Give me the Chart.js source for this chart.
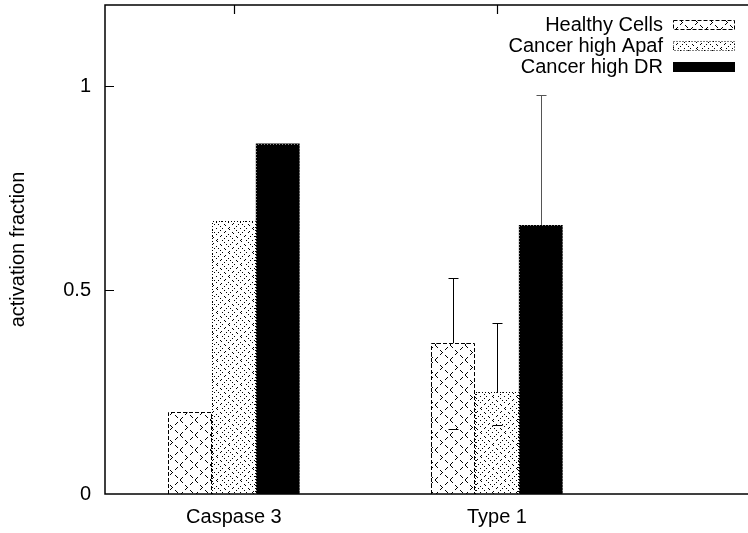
<!DOCTYPE html>
<html><head><meta charset="utf-8">
<script src="https://cdn.jsdelivr.net/npm/chart.js@4/dist/chart.umd.min.js"></script>
<style>html,body{margin:0;padding:0;overflow:hidden;background:#fff}#wrap{width:770px;height:533px;position:relative}</style>
</head><body><div id="wrap"><canvas id="c"></canvas></div>
<script>
const categories = ["Caspase 3", "Type 1"];
const seriesNames = ["Healthy Cells", "Cancer high Apaf", "Cancer high DR"];
const healthy = [0.20, 0.37];
const apaf = [0.67, 0.25];
const dr = [0.86, 0.66];
const healthyLow = [null, 0.16];
const healthyHigh = [null, 0.53];
const apafLow = [null, 0.17];
const apafHigh = [null, 0.42];
const drLow = [null, 0.34];
const drHigh = [null, 0.98];
const yTicks = [0, 0.5, 1];

const FONT = "'Liberation Sans', Arial, Helvetica, sans-serif";
Chart.defaults.font.family = FONT;
Chart.defaults.color = '#000';

function tile(n, drawFn) {
  const c = document.createElement('canvas'); c.width = c.height = n;
  const g = c.getContext('2d');
  g.fillStyle = '#fff'; g.fillRect(0, 0, n, n);
  g.fillStyle = '#000';
  const set = (x, y) => { g.fillRect(((x % n) + n) % n, ((y % n) + n) % n, 1, 1); };
  drawFn(set, n);
  return g.createPattern(c, 'repeat');
}
function makeHealthy() {
  return tile(15, (set, n) => {
    for (let i = 0; i < n; i++) {
      if (i % 5 < 3) { set(i, i); set(i, n - 1 - i); }
    }
    set(7, 7);
  });
}
function makeApaf() {
  return tile(24, (set, n) => {
    for (let i = 0; i < n; i++) {
      if (i % 4 < 2) { set(i, i); set(i, n - i); }
    }
    const ring = (cx, cy, r) => {
      for (let t = -r; t <= r; t++) {
        if ((t + r) % 2) continue;
        const d = r - Math.abs(t);
        set(cx + t, cy + d); set(cx + t, cy - d);
      }
    };
    [[12, 0], [0, 12]].forEach(([cx, cy]) => { ring(cx, cy, 6); set(cx, cy); });
  });
}
const healthyPat = makeHealthy();
const apafPat = makeApaf();
const fills = [healthyPat, apafPat, '#000'];
const values = [healthy, apaf, dr];
const lows = [healthyLow, apafLow, drLow];
const highs = [healthyHigh, apafHigh, drHigh];
const dashes = [[4, 2], [1, 2], [1, 2]];
const edgeColors = ['#000', '#000', '#888'];

const barEdges = {
  id: 'barEdges',
  afterDatasetsDraw(chart) {
    const ctx = chart.ctx;
    ctx.save();
    ctx.lineWidth = 1;
    values.forEach((vals, i) => {
      const meta = chart.getDatasetMeta(i);
      ctx.strokeStyle = edgeColors[i];
      ctx.setLineDash(dashes[i]);
      meta.data.forEach(el => {
        const l = Math.round(el.x - el.width / 2) + 0.5, r = Math.round(el.x + el.width / 2) - 0.5;
        const t = Math.round(el.y) + 0.5, b = Math.round(el.base);
        ctx.beginPath();
        ctx.moveTo(l, b); ctx.lineTo(l, t); ctx.lineTo(r, t); ctx.lineTo(r, b);
        ctx.stroke();
      });
    });
    ctx.restore();
  }
};

const errorBars = {
  id: 'errorBars',
  afterDatasetsDraw(chart) {
    const ctx = chart.ctx, ys = chart.scales.y;
    ctx.save();
    ctx.lineWidth = 1;
    values.forEach((vals, i) => {
      const meta = chart.getDatasetMeta(i);
      vals.forEach((v, j) => {
        if (highs[i][j] == null) return;
        const el = meta.data[j];
        const x = Math.round(el.x) + 0.5;
        const yh = Math.round(ys.getPixelForValue(highs[i][j])) + 0.5;
        const yl = Math.round(ys.getPixelForValue(lows[i][j])) + 0.5;
        ctx.strokeStyle = i === 2 ? '#555' : '#000';
        ctx.beginPath();
        ctx.moveTo(x, el.y); ctx.lineTo(x, yh);
        ctx.moveTo(x - 5, yh); ctx.lineTo(x + 5, yh);
        ctx.stroke();
        ctx.strokeStyle = '#000';
        ctx.beginPath();
        ctx.moveTo(x - 5, yl); ctx.lineTo(x + 5, yl);
        ctx.stroke();
      });
    });
    ctx.restore();
  }
};

const frame = {
  id: 'frame',
  afterDraw(chart) {
    const ctx = chart.ctx, a = chart.chartArea, xs = chart.scales.x, ys = chart.scales.y;
    ctx.save();
    ctx.strokeStyle = '#000'; ctx.lineWidth = 1.5;
    ctx.strokeRect(a.left, a.top, a.right - a.left, a.bottom - a.top);
    ctx.beginPath();
    yTicks.forEach(v => {
      if (v === 0) return;
      const y = Math.round(ys.getPixelForValue(v)) + 0.5;
      ctx.moveTo(a.left, y); ctx.lineTo(a.left + 9, y);
    });
    categories.forEach((c, i) => {
      const x = Math.round(xs.getPixelForValue(i)) + 0.5;
      ctx.moveTo(x, a.top); ctx.lineTo(x, a.top + 9);
    });
    ctx.lineWidth = 1.2;
    ctx.stroke();
    ctx.font = '20px ' + FONT;
    ctx.textAlign = 'right'; ctx.textBaseline = 'middle'; ctx.fillStyle = '#000';
    const rows = [25, 46, 67];
    seriesNames.forEach((n, i) => {
      ctx.fillText(n, 663, rows[i]);
      ctx.fillStyle = fills[i];
      ctx.fillRect(673, rows[i] - 5, 62, 10);
      if (i < 2) { ctx.lineWidth = 1; ctx.setLineDash(dashes[i]); ctx.strokeStyle = '#000'; ctx.strokeRect(673.5, rows[i] - 4.5, 61, 9); ctx.setLineDash([]); }
      ctx.fillStyle = '#000';
    });
    ctx.restore();
  }
};

new Chart(document.getElementById('c'), {
  type: 'bar',
  data: {
    datasets: seriesNames.map((n, i) => ({
      label: n,
      data: categories.map((c, j) => ({ x: j, y: values[i][j] })),
      backgroundColor: fills[i],
      borderWidth: 0,
      categoryPercentage: 0.5,
      barPercentage: 1
    }))
  },
  options: {
    responsive: true, maintainAspectRatio: false, animation: false, devicePixelRatio: 1,
    layout: { padding: { left: 0, top: 5, right: 10, bottom: 0 } },
    plugins: { legend: { display: false }, tooltip: { enabled: false } },
    scales: {
      x: {
        type: 'linear', min: -0.49, max: 2, offset: false, bounds: 'data', grace: 0,
        afterBuildTicks: s => { s.ticks = categories.map((c, i) => ({ value: i })); },
        afterFit: s => { s.height = 39; s.paddingLeft = 0; s.paddingRight = 0; },
        ticks: { callback: v => categories[v], font: { size: 20 }, color: '#000', maxRotation: 0, autoSkip: false, padding: 11 },
        grid: { display: false, drawTicks: false, offset: false },
        border: { display: false }
      },
      y: {
        min: 0, max: 1.2,
        afterBuildTicks: s => { s.ticks = yTicks.map(v => ({ value: v })); },
        afterFit: s => { s.width = 105; s.paddingTop = 0; s.paddingBottom = 0; },
        ticks: { callback: v => String(v), font: { size: 20 }, color: '#000', padding: 14 },
        grid: { display: false, drawTicks: false },
        border: { display: false },
        title: { display: true, text: 'activation fraction', font: { size: 20 }, color: '#000', padding: { top: 6, bottom: 0 } }
      }
    }
  },
  plugins: [barEdges, errorBars, frame]
});
</script></body></html>
